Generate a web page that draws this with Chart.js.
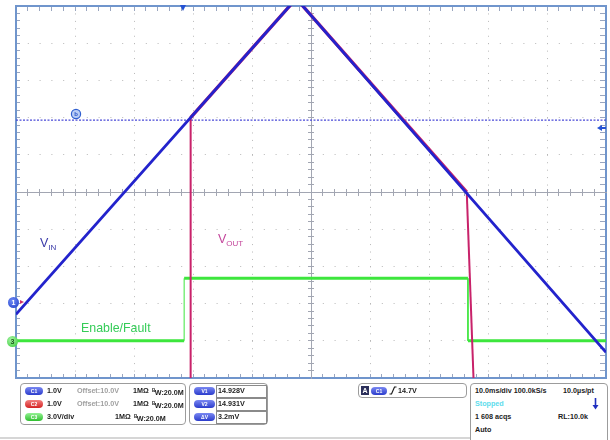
<!DOCTYPE html>
<html>
<head>
<meta charset="utf-8">
<script src="https://cdn.jsdelivr.net/npm/chart.js@4/dist/chart.umd.min.js"></script>
<style>
  body { margin: 0; background: #fff; font-family: "Liberation Sans", Arial, sans-serif; }
  #wrap { position: relative; width: 610px; height: 440px; overflow: hidden; }
  #scope { position: absolute; left: 0; top: 0; }
  .abs { position: absolute; }
  .lbl { position: absolute; white-space: nowrap; line-height: 1; }
  .lbl sub { font-size: 8px; vertical-align: -3px; }
  .mk { position: absolute; border-radius: 50%; text-align: center; font-weight: bold; }
  .box { position: absolute; border: 1px solid #9c9c9c; border-radius: 4px; background: #fff; box-sizing: border-box; }
  .t { position: absolute; font: bold 7.2px "Liberation Sans", Arial, sans-serif; color: #1c1c1c; white-space: nowrap; line-height: 8px; }
  .t .bw { font-size: 4.5px; vertical-align: 3px; margin-right: -0.5px; }
  .g { color: #a0a0a0; }
  .pill { position: absolute; height: 8px; border-radius: 4px; color: #fff; font: bold 5px "Liberation Sans", Arial, sans-serif; line-height: 8px; text-align: center; }
  .pb { background: linear-gradient(#7a88f2, #2b3ccc); }
  .pr { background: linear-gradient(#f28080, #d42424); }
  .pg { background: linear-gradient(#94f294, #2fbf2f); }
  .cell { position: absolute; border: 1px solid #8a8a8a; box-sizing: border-box; width: 51px; height: 13px; }
</style>
</head>
<body>
<div id="wrap">
  <canvas id="scope" width="610" height="440"></canvas>

  <!-- trace labels -->
  <div class="lbl" style="left:40px;top:237px;font-size:12.5px;color:#3a3aa8;">V<sub>IN</sub></div>
  <div class="lbl" style="left:218px;top:233px;font-size:12.5px;color:#c4479c;">V<sub>OUT</sub></div>
  <div class="lbl" style="left:81px;top:322px;font-size:12.4px;color:#35cc58;">Enable/Fault</div>

  <!-- channel / cursor / trigger markers -->
  <div class="mk" style="left:8px;top:297px;width:11px;height:11px;line-height:11px;font-size:7px;color:#fff;background:radial-gradient(circle at 40% 35%,#6f8cf5,#1d3cc8);">1</div>
  <div class="abs" style="left:20px;top:300px;width:0;height:0;border-left:4px solid #d0306a;border-top:2px solid transparent;border-bottom:2px solid transparent;"></div>
  <div class="mk" style="left:7px;top:336px;width:11px;height:11px;line-height:11px;font-size:7px;color:#1d5a1d;background:radial-gradient(circle at 40% 35%,#a6f5a6,#33c933);">3</div>
  <div class="mk" style="left:72px;top:110px;width:8px;height:8px;line-height:8px;font-size:6px;color:#2a55c8;background:#b9cdf5;box-shadow:0 0 0 1.2px #2f5fd0;">b</div>
  <div class="abs" style="left:180px;top:5px;width:0;height:0;border-top:6px solid #2452d4;border-left:3.5px solid transparent;border-right:3.5px solid transparent;"></div>
  <div class="abs" style="left:597px;top:125px;width:0;height:0;border-right:5px solid #2452d4;border-top:3px solid transparent;border-bottom:3px solid transparent;"></div>
  <div class="abs" style="left:601px;top:127px;width:5px;height:2px;background:#2452d4;"></div>

  <!-- info panel -->
  <div class="box" style="left:20px;top:383px;width:166px;height:42px;"></div>
  <div class="pill pb" style="left:25px;top:387px;width:18px;">C1</div>
  <div class="t" style="left:47px;top:387px;">1.0V</div>
  <div class="t g" style="left:77px;top:387px;">Offset:10.0V</div>
  <div class="t" style="left:133px;top:387px;">1MΩ</div>
  <div class="t" style="left:152px;top:387px;"><span class="bw">B</span>W:20.0M</div>
  <div class="pill pr" style="left:25px;top:400px;width:18px;">C2</div>
  <div class="t" style="left:47px;top:400px;">1.0V</div>
  <div class="t g" style="left:77px;top:400px;">Offset:10.0V</div>
  <div class="t" style="left:133px;top:400px;">1MΩ</div>
  <div class="t" style="left:152px;top:400px;"><span class="bw">B</span>W:20.0M</div>
  <div class="pill pg" style="left:25px;top:413px;width:18px;">C3</div>
  <div class="t" style="left:47px;top:413px;">3.0V/div</div>
  <div class="t" style="left:115px;top:413px;">1MΩ</div>
  <div class="t" style="left:134px;top:413px;"><span class="bw">B</span>W:20.0M</div>

  <div class="box" style="left:189px;top:383px;width:79px;height:42px;"></div>
  <div class="pill pb" style="left:194px;top:387px;width:21px;">V1</div>
  <div class="pill pb" style="left:194px;top:400px;width:21px;">V2</div>
  <div class="pill pb" style="left:194px;top:413px;width:21px;">ΔV</div>
  <div class="cell" style="left:216px;top:385px;"></div>
  <div class="cell" style="left:216px;top:398px;"></div>
  <div class="cell" style="left:216px;top:411px;"></div>
  <div class="t" style="left:218px;top:387px;">14.928V</div>
  <div class="t" style="left:218px;top:400px;">14.931V</div>
  <div class="t" style="left:218px;top:413px;">3.2mV</div>

  <div class="box" style="left:358px;top:383px;width:109px;height:15px;"></div>
  <div class="abs" style="left:361px;top:386px;width:8px;height:9px;background:#2b2f5a;color:#fff;font:bold 7px 'Liberation Sans',Arial,sans-serif;line-height:9px;text-align:center;">A</div>
  <div class="pill pb" style="left:371px;top:387px;width:16px;">C1</div>
  <svg class="abs" style="left:389px;top:386px;" width="8" height="9"><polyline points="0.5,8 2.5,8 5.5,1 7.5,1" fill="none" stroke="#1c1c1c" stroke-width="1.2"/></svg>
  <div class="t" style="left:398px;top:387px;">14.7V</div>

  <div class="box" style="left:470px;top:383px;width:138px;height:62px;"></div>
  <div class="t" style="left:475px;top:387px;">10.0ms/div 100.0kS/s</div>
  <div class="t" style="left:563px;top:387px;">10.0µs/pt</div>
  <div class="t" style="left:475px;top:400px;color:#5ddcec;">Stopped</div>
  <svg class="abs" style="left:592px;top:398px;" width="7" height="12"><line x1="3.5" y1="0" x2="3.5" y2="8" stroke="#1f2fc0" stroke-width="1.6"/><polygon points="0.5,7 6.5,7 3.5,11.5" fill="#1f2fc0"/></svg>
  <div class="t" style="left:475px;top:413px;">1 608 acqs</div>
  <div class="t" style="left:558px;top:413px;">RL:10.0k</div>
  <div class="t" style="left:475px;top:426px;">Auto</div>

  <div class="abs" style="left:0;top:437px;width:470px;height:2px;background:#d6d6d6;"></div>
</div>

<script>
// Scope screen: 10 ms/div across, 1 V/div down, 10 x 10 divisions.
const T_MIN = -50, T_MAX = 50;
const V_MIN = 8, V_MAX = 18;

// C1 - VIN ramp (up then down)
const vinTime  = [-50, -2.5, 50];
const vinVolts = [9.71, 18.2, 8.69];

// C2 - VOUT: below screen until enable, then follows VIN, drops at fault
const voutTime  = [-50, -20.45, -20.4, -2.5, 26.4, 28.0, 50];
const voutVolts = [6, 6, 15.0, 18.2, 13.0, 6, 6];

// C3 - Enable/Fault logic level
const enTime  = [-50, -21.5, -21.5, 26.6, 26.6, 50];
const enVolts = [9.0, 9.0, 10.68, 10.68, 9.0, 9.0];

// V1/V2 cursor level
const cursorTime  = [-50, 50];
const cursorVolts = [14.93, 14.93];

const BLUE = '#2323cc';
const RED = '#c8226a';
const GREEN = '#3de63d';
const DOTS = '#b8b8b8';
const FRAME = '#7095cc';
const TICKC = '#9aa6bf';
const CENTER = '#a2a6b2';

function pts(xs, ys) { return xs.map((x, i) => ({ x, y: ys[i] })); }

// Minor-tick rulers (frame edges and centre cross), placed with object positions
function ruler(axis, pos, len, color, border) {
  const isX = axis === 'x';
  return {
    type: 'linear', axis, position: pos,
    min: isX ? T_MIN : V_MIN, max: isX ? T_MAX : V_MAX,
    ticks: { display: false, stepSize: isX ? 2 : 0.2, autoSkip: false },
    grid: { drawOnChartArea: false, drawTicks: true, tickLength: len, tickColor: color, tickWidth: 1 },
    border: border ? { display: true, color: border[0], width: border[1] } : { display: false },
  };
}

new Chart(document.getElementById('scope'), {
  type: 'line',
  data: {
    datasets: [
      { data: pts(vinTime, vinVolts), borderColor: BLUE, borderWidth: 2.8, order: 1 },
      { data: pts(voutTime, voutVolts), borderColor: RED, borderWidth: 3.4, order: 2,
        segment: { borderWidth: c => Math.abs(c.p1.parsed.x - c.p0.parsed.x) < 2 ? 2 : 3.4 } },
      { data: pts(enTime, enVolts), borderColor: GREEN, borderWidth: 3, order: 3,
        segment: { borderWidth: c => c.p1.parsed.x === c.p0.parsed.x ? 1 : 3 } },
      { data: pts(cursorTime, cursorVolts), borderColor: '#4a4ad8', borderWidth: 1.3, borderDash: [2, 1.5], order: 4 },
    ],
  },
  options: {
    responsive: false, animation: false, devicePixelRatio: 1,
    layout: { padding: { left: 16, top: 6, right: 4, bottom: 62 } },
    elements: { point: { radius: 0 }, line: { tension: 0, fill: false } },
    plugins: { legend: { display: false }, tooltip: { enabled: false } },
    scales: {
      x: {
        type: 'linear', position: 'bottom', min: T_MIN, max: T_MAX,
        ticks: { display: false, stepSize: 10 },
        grid: { color: DOTS, lineWidth: 1, drawTicks: false },
        border: { display: false, dash: [1, 6.44] },
      },
      y: {
        type: 'linear', position: 'left', min: V_MIN, max: V_MAX,
        ticks: { display: false, stepSize: 1 },
        grid: { color: DOTS, lineWidth: 1, drawTicks: false },
        border: { display: false, dash: [1, 10.8] },
      },
      xTop: ruler('x', { y: V_MAX }, 4, TICKC, [FRAME, 2]),
      xBot: ruler('x', { y: V_MIN }, -5, TICKC, [FRAME, 2]),
      yLeft: ruler('y', { x: T_MIN }, -5, TICKC, [FRAME, 2]),
      yRight: ruler('y', { x: T_MAX }, 5, TICKC, [FRAME, 2]),
      xMid1: ruler('x', { y: 13 }, 3, CENTER, [CENTER, 1]),
      xMid2: ruler('x', { y: 13 }, -3, CENTER, null),
      yMid1: ruler('y', { x: 0 }, 3, CENTER, [CENTER, 1]),
      yMid2: ruler('y', { x: 0 }, -3, CENTER, null),
    },
  },
});
</script>
</body>
</html>
